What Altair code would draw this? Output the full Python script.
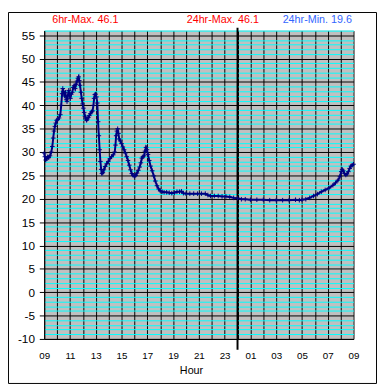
import altair as alt
import pandas as pd

# hours after 09:00 and temperature readings
HOURS = [0.00, 0.05, 0.12, 0.20, 0.28, 0.35, 0.45, 0.55, 0.63, 0.70, 0.76, 0.83, 0.90, 0.97,
         1.05, 1.15, 1.25, 1.32, 1.39, 1.44, 1.50, 1.57, 1.65, 1.72, 1.77, 1.83, 1.90, 1.97,
         2.03, 2.10, 2.18, 2.25, 2.32, 2.40, 2.47, 2.55, 2.62, 2.67, 2.72, 2.78, 2.85, 2.91,
         2.98, 3.04, 3.10, 3.16, 3.23, 3.29, 3.36, 3.42, 3.50, 3.58, 3.67, 3.75, 3.82, 3.87,
         3.93, 3.98, 4.05, 4.12, 4.18, 4.24, 4.30, 4.36, 4.42, 4.48, 4.55, 4.63, 4.73, 4.85,
         4.97, 5.10, 5.22, 5.35, 5.47, 5.53, 5.58, 5.64, 5.70, 5.76, 5.82, 5.90, 6.00, 6.10,
         6.20, 6.30, 6.40, 6.50, 6.60, 6.70, 6.80, 6.90, 7.00, 7.10, 7.20, 7.30, 7.40, 7.50,
         7.58, 7.66, 7.75, 7.82, 7.90, 7.97, 8.05, 8.15, 8.25, 8.38, 8.50, 8.62, 8.75, 8.88,
         9.00, 9.15, 9.30, 9.50, 9.70, 9.90, 10.10, 10.30, 10.50, 10.65, 10.80, 11.00, 11.30,
         11.60, 11.90, 12.20, 12.50, 12.70, 12.90, 13.20, 13.50, 13.80, 14.10, 14.40, 14.70,
         15.00, 15.30, 15.60, 16.00, 16.50, 17.00, 17.50, 18.00, 18.50, 19.00, 19.50, 19.80,
         20.00, 20.30, 20.60, 20.90, 21.20, 21.50, 21.80, 22.10, 22.40, 22.60, 22.80, 22.95,
         23.05, 23.12, 23.20, 23.30, 23.40, 23.50, 23.60, 23.70, 23.80, 23.90, 24.00]
TEMPS = [29.8, 29.0, 28.3, 28.6, 29.0, 28.8, 29.2, 30.0, 31.2, 33.0, 34.5, 35.5, 36.2, 36.8,
         37.0, 37.3, 38.0, 40.0, 42.5, 43.6, 43.0, 42.0, 42.8, 41.2, 40.8, 42.0, 43.2, 42.2,
         41.5, 42.4, 42.8, 43.8, 44.2, 43.6, 44.5, 45.2, 45.8, 46.1, 45.3, 44.3, 42.8, 41.5,
         40.3, 39.4, 38.5, 37.7, 37.1, 36.8, 37.1, 37.4, 37.8, 38.2, 38.6, 38.8, 40.0, 41.5,
         42.3, 42.4, 41.8, 40.5, 36.5, 33.5, 30.5, 28.0, 26.3, 25.4, 25.6, 26.2, 26.9, 27.5,
         28.0, 28.6, 29.0, 29.4, 30.0, 31.5, 33.5, 34.5, 35.0, 34.0, 32.8, 32.4, 31.8, 31.1,
         30.5, 29.8, 29.0, 28.2, 27.2, 26.2, 25.4, 25.0, 24.8, 25.0, 25.5, 26.1, 26.8, 27.7,
         28.7, 29.0, 29.2, 30.2, 31.0, 30.5, 29.5, 28.2, 27.0, 26.0, 24.9, 23.8, 22.8, 22.1,
         21.7, 21.5, 21.4, 21.4, 21.3, 21.2, 21.3, 21.5, 21.5, 21.6, 21.2, 21.1, 21.1,
         21.1, 21.1, 21.1, 21.1, 20.8, 20.6, 20.6, 20.6, 20.5, 20.5, 20.4, 20.2,
         20.1, 19.9, 19.9, 19.8, 19.8, 19.8, 19.7, 19.7, 19.7, 19.7, 19.8, 19.7,
         19.8, 19.9, 20.2, 20.6, 21.0, 21.5, 21.9, 22.3, 22.9, 23.4, 24.0, 24.8,
         25.8, 26.3, 26.0, 25.4, 25.1, 25.3, 25.8, 26.5, 27.0, 27.2, 27.4]

MIDNIGHT = [15]  # 00:00 is 15 hours after 09:00
HEADERS = ["6hr-Max. 46.1", "24hr-Max. 46.1", "24hr-Min. 19.6"]

df = pd.DataFrame({"h": HOURS, "t": TEMPS})
mid_df = pd.DataFrame({"h": MIDNIGHT})
one = alt.Data(values=[{}])

FONT = "Liberation Sans"
NAVY = "#000080"

xscale = alt.Scale(domain=[0, 24], nice=False, zero=False)
yscale = alt.Scale(domain=[-10, 56], nice=False, zero=False)

x_axis = alt.Axis(
    values=list(range(25)), grid=True, gridColor="black", gridWidth=1,
    ticks=False, domainColor="black", labelColor="black", labelFontSize=10,
    labelFont=FONT, labelPadding=12, labelFlush=False, labelOverlap=False,
    labelExpr="datum.value % 2 ? '' : pad(toString((9 + datum.value) % 24), 2, '0', 'left')",
    title="Hour", titleFont=FONT, titleFontSize=11, titleFontWeight="normal",
    titleColor="black", titleBaseline="alphabetic", titleX=150, titleY=35,
)
y_axis = alt.Axis(
    values=list(range(-10, 56, 5)), grid=True, gridColor="black", gridWidth=1,
    tickColor="black", tickSize=5, domainColor="black", labelColor="black",
    labelFontSize=12, labelFont=FONT, labelPadding=5, title=None, orient="left",
    labelExpr="'' + datum.value",
)
minor_axis = alt.Axis(
    values=[v for v in range(-10, 57) if v % 5], grid=True, gridColor="#00FFFF",
    gridWidth=1, ticks=False, labels=False, domain=False, title=None, orient="left",
)

X = alt.X("h:Q", scale=xscale, axis=x_axis)

minor = alt.Chart(df).mark_point(opacity=0).encode(
    x=X,
    y=alt.Y("t:Q", scale=yscale, axis=minor_axis),
)

line = alt.Chart(df).mark_line(color=NAVY, strokeWidth=2).encode(
    x=X,
    y=alt.Y("t:Q", scale=yscale, axis=y_axis),
)

midline = alt.Chart(mid_df).mark_rule(color="black", strokeWidth=2).encode(
    x=X, y=alt.value(-3), y2=alt.value(326),
)

pts = alt.Chart(df).mark_point(
    shape="M-1,0L1,0M0,-1L0,1", size=22, filled=False, stroke=NAVY, strokeWidth=1, opacity=1
).encode(
    x=X,
    y=alt.Y("t:Q", scale=yscale, axis=None),
)

def header(i, xpos, color):
    return alt.Chart(one).mark_text(
        font=FONT, fontSize=11, color=color, align="center", baseline="alphabetic"
    ).encode(x=alt.value(xpos), y=alt.value(-8), text=alt.value(HEADERS[i]))

h1 = header(0, 42, "#FF0000")
h2 = header(1, 182.5, "#FF0000")
h3 = header(2, 279, "#3366FF")

frame = alt.Chart(one).mark_rect(fillOpacity=0, stroke="black", strokeWidth=1).encode(
    x=alt.value(-36.5), x2=alt.value(339.5), y=alt.value(-18.5), y2=alt.value(360.5)
)

chart = alt.layer(minor, line, midline, pts, h1, h2, h3, frame).resolve_axis(
    y="independent"
).properties(
    width=316, height=315,
    autosize=alt.AutoSizeParams(type="none"),
    padding={"left": 37, "top": 19, "right": 24, "bottom": 45},
    background="white",
).configure_view(fill="#C0C0C0", strokeWidth=0)

chart.save("out.html", embed_options={"renderer": "svg", "actions": False})
